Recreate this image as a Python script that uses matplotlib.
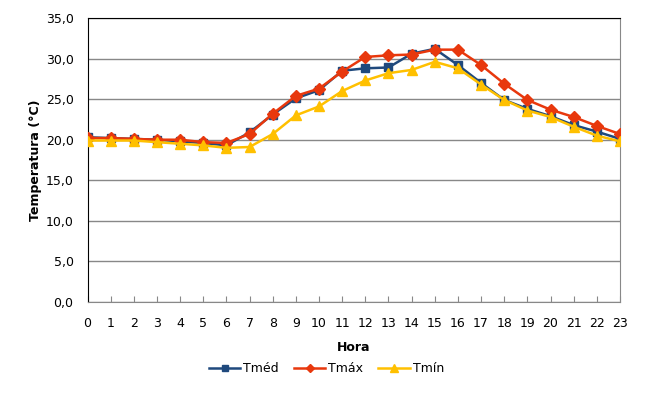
import matplotlib
matplotlib.use('Agg')
import matplotlib.pyplot as plt
import numpy as np

HOURS = list(range(24))
T_MED = [20.3, 20.2, 20.1, 20.0, 19.8, 19.6, 19.3, 20.9, 23.1, 25.1, 26.1, 28.5,
         28.8, 28.9, 30.6, 31.2, 29.2, 27.0, 24.9, 23.8, 22.9, 21.8, 21.0, 20.1]
T_MAX = [20.2, 20.2, 20.1, 20.0, 20.0, 19.7, 19.6, 20.7, 23.2, 25.4, 26.3, 28.4,
         30.2, 30.4, 30.5, 31.1, 31.1, 29.2, 26.9, 24.9, 23.7, 22.8, 21.7, 20.7]
T_MIN = [19.9, 19.9, 19.9, 19.7, 19.5, 19.3, 19.0, 19.1, 20.7, 23.0, 24.1, 26.0,
         27.3, 28.2, 28.6, 29.6, 28.8, 26.8, 24.9, 23.6, 22.8, 21.6, 20.5, 19.8]
Y_TICKS = np.arange(0, 35.1, 5)

fig = plt.figure(figsize=(6.53, 4.0), dpi=100)
ax = fig.add_axes([87.5 / 653, 1 - 302 / 400, (620 - 87.5) / 653, (302 - 18) / 400])

ax.plot(HOURS, T_MED, color='#1F497D', marker='s', markersize=6, linewidth=1.8, label='Tméd', zorder=3)
ax.plot(HOURS, T_MAX, color='#E8380D', marker='D', markersize=6, linewidth=1.8, label='Tmáx', zorder=4)
ax.plot(HOURS, T_MIN, color='#FFC000', marker='^', markersize=7, linewidth=1.8, label='Tmín', zorder=5)

ax.set_xlim(0, 23)
ax.set_ylim(0, 35)
ax.set_yticks(Y_TICKS)
ax.set_yticklabels(['{:.1f}'.format(v).replace('.', ',') for v in Y_TICKS])
ax.set_xticks(HOURS)
ax.yaxis.grid(True, color='#888888', linewidth=1)
ax.set_axisbelow(True)

ax.tick_params(axis='y', length=0, labelsize=9, pad=10)
ax.tick_params(axis='x', direction='in', length=4, color='#888888', labelsize=9, pad=11)

for side in ('right', 'bottom'):
    ax.spines[side].set_color('#888888')
ax.spines['left'].set_color('black')
ax.spines['top'].set_color('black')

ax.set_xlabel('Hora', fontweight='bold', fontsize=9, labelpad=8)
ax.set_ylabel('Temperatura (°C)', fontweight='bold', fontsize=9, labelpad=3)

# legend centred on the figure, just under the axis title
fig.legend(loc='center', bbox_to_anchor=(0.5, 1 - 369 / 400), ncol=3, frameon=False,
           fontsize=9, handlelength=2.5, columnspacing=1.2, handletextpad=0.25,
           markerscale=0.75)

plt.savefig('out.png', dpi=100)
plt.close()
